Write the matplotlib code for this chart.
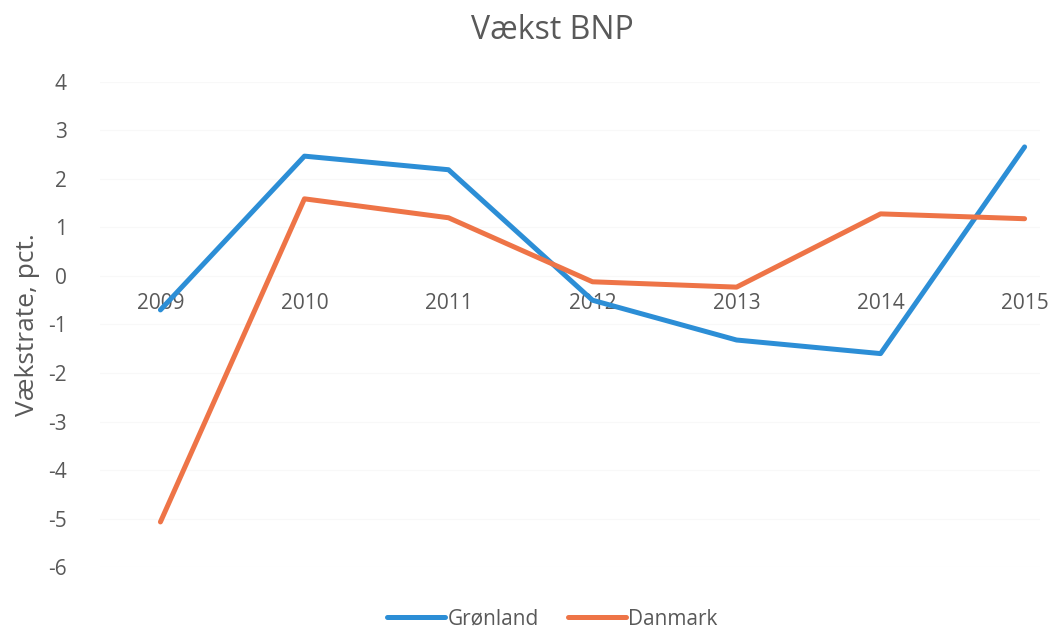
import matplotlib.pyplot as plt

# data
years = ["2009", "2010", "2011", "2012", "2013", "2014", "2015"]
groenland = [-0.7, 2.47, 2.19, -0.5, -1.32, -1.6, 2.66]
danmark = [-5.07, 1.59, 1.2, -0.12, -0.23, 1.28, 1.18]
yticks = [4, 3, 2, 1, 0, -1, -2, -3, -4, -5, -6]

grey = "#595959"
plt.rcParams["font.family"] = ["Open Sans", "DejaVu Sans"]

fig = plt.figure(figsize=(10.52, 6.35), dpi=100)
ax = fig.add_axes([0.095, 0.107, 0.894, 0.764])

x = list(range(len(years)))
ax.plot(x, groenland, color="#2C8ED6", linewidth=3.6, solid_capstyle="round", label="Grønland")
ax.plot(x, danmark, color="#EE7447", linewidth=3.6, solid_capstyle="round", label="Danmark")

ax.set_ylim(-6, 4)
ax.set_xlim(-0.42, 6.11)
ax.set_yticks(yticks)
ax.set_yticklabels([str(v) for v in yticks])
ax.set_xticks(x)
ax.set_xticklabels(years)

# category axis sits at y = 0, like Excel
ax.spines["bottom"].set_position(("data", 0))
for s in ax.spines.values():
    s.set_visible(False)
ax.tick_params(axis="x", length=0, pad=12, labelsize=15, labelcolor=grey)
ax.tick_params(axis="y", length=0, pad=24, labelsize=15, labelcolor=grey)

ax.grid(axis="y", color="#f8f8f8", linewidth=0.8)
ax.set_axisbelow(True)

ax.set_ylabel("Vækstrate, pct.", fontsize=19, color=grey, labelpad=6)
fig.text(0.525, 0.952, "Vækst BNP", ha="center", va="center", fontsize=23, color=grey)

fig.legend(loc="center", bbox_to_anchor=(0.525, 0.025), ncol=2, frameon=False,
           fontsize=15, labelcolor=grey, handlelength=2.8, handletextpad=0.1,
           columnspacing=1.4)

plt.savefig("out.png", dpi=100)
